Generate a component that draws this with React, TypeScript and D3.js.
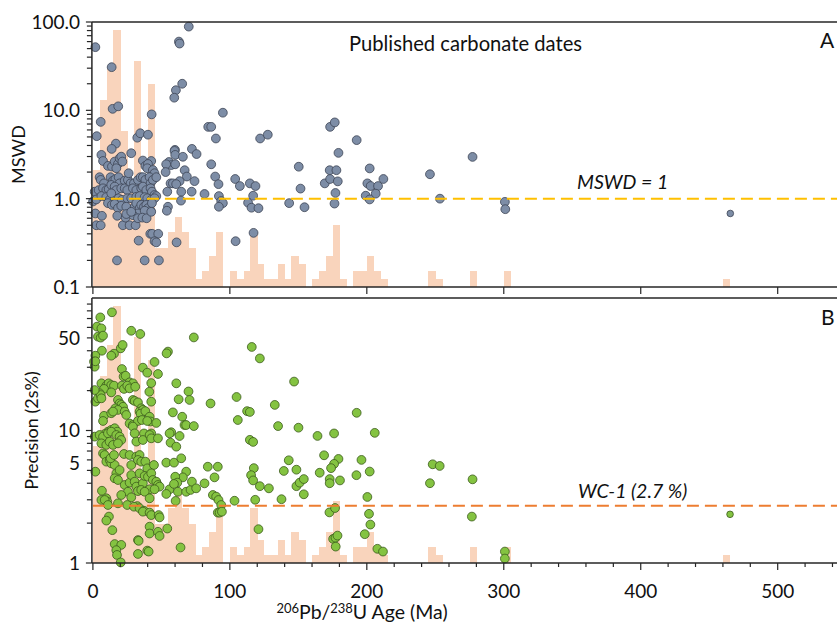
import React from 'react';
import * as d3 from 'd3';

const W = 837;
const H = 623;

const xTicks = [0, 100, 200, 300, 400, 500];
const xMinorTicks = d3.range(20, 541, 20).filter((v) => v % 100 !== 0);
const mswdTicks = [0.1, 1, 10, 100];
const mswdLabels = ['0.1', '1.0', '10.0', '100.0'];
const precTicks = [1, 5, 10, 50];
const precLabels = ['1', '5', '10', '50'];

// histogram of ages: 5 Ma bins (bin start, count)
const histBinStart = [0, 5, 10, 15, 20, 25, 30, 35, 40, 45, 50, 55, 60, 65, 70, 75, 80, 85, 90, 95, 100, 105, 110, 115, 120, 125, 130, 135, 140, 145, 150, 155, 160, 165, 170, 175, 180, 185, 190, 195, 200, 205, 210, 245, 250, 275, 300, 460];
const histCount = [15, 24, 28, 33, 20, 12, 29, 10, 26, 5, 5, 7, 9, 7, 5, 1, 2, 4, 7, 0, 2, 1, 2, 7, 3, 1, 1, 3, 1, 4, 3, 0, 1, 2, 4, 8, 1, 0, 2, 2, 4, 2, 1, 2, 1, 2, 2, 1];

// Panel A: [age Ma, MSWD]
const mswdPoints: [number, number][] = [
  [1.8, 51.9], [70, 88.7], [62.8, 60], [63.3, 57], [13.7, 30.8], [65.2, 20], [60.6, 16.9], [59.4, 13.9],
  [14.4, 10.4], [18.5, 11.1], [5.7, 7.4], [42.9, 9.0], [94.9, 9.4], [84.2, 6.5], [86.4, 6.5], [89.8, 4.8],
  [122.1, 4.8], [127.7, 5.3], [2.8, 5.1], [32.4, 4.9], [34.6, 5.5], [40.2, 5.3], [16.8, 4.2], [13.7, 3.66],
  [59.9, 3.57], [72.3, 3.66], [28, 3.27], [59.6, 3.47], [75.7, 3.2],
  [60.1, 3.13], [65.7, 2.98], [55.5, 2.6], [57.2, 2.4], [60.1, 2.45], [53.5, 2.45], [86.4, 2.45],
  [53.1, 2.0], [67, 2.1], [68.6, 1.78], [74.2, 1.58], [56.7, 1.49], [58.4, 1.49], [63.3, 1.58], [60.8, 1.46],
  [89.3, 1.78], [91.7, 1.46], [103.9, 1.67], [54.3, 1.2], [64.5, 1.2], [72.1, 1.2], [81.5, 1.13],
  [92, 1.07], [93.7, 0.94], [94.9, 0.89], [92, 0.81], [54.8, 0.81], [54, 0.73],
  [41.9, 0.4], [43.3, 0.4], [47.7, 0.4], [45, 0.33], [46.3, 0.32], [61.1, 0.32], [104.2, 0.33], [33.4, 0.335],
  [17.6, 0.2], [37.8, 0.2], [48.2, 0.2], [64.3, 0.95], [117.3, 0.41], [107.3, 1.39], [114.6, 1.49],
  [118.7, 1.39], [117, 1.08], [113.3, 0.9], [115.8, 0.79], [120.9, 0.78],
  [173.2, 6.5], [176.6, 7.3], [192.6, 4.6], [179.3, 3.3], [277.2, 2.97], [150.3, 2.3], [172.9, 2.1], [177.8, 2.1],
  [202.1, 2.2], [246.1, 1.89], [169.3, 1.49], [173.2, 1.67], [178.8, 1.57], [151.6, 1.3], [200.4, 1.49],
  [202.8, 1.39], [208.2, 1.39], [212.1, 1.67], [206.5, 1.14], [177.1, 1.16], [199.2, 1.08], [202.1, 0.98],
  [143.3, 0.89], [154.5, 0.8], [176.4, 0.88], [253.4, 1.0], [300.8, 0.92], [301.1, 0.76],
  [6.2, 3.13], [7.4, 2.67], [11.0, 2.35], [13.9, 2.31], [15.9, 2.63], [18.3, 2.47], [19.5, 2.86], [20.7, 2.99],
  [21.5, 2.63], [17.1, 2.21], [36.5, 2.7], [38.3, 2.35], [42.6, 2.67], [40.2, 2.47], [39.7, 2.21], [43.8, 2.11],
  [45.0, 1.94], [4.9, 1.75], [5.7, 1.63], [8.1, 1.49], [12.9, 1.75], [14.7, 1.6], [16.4, 1.66], [18.8, 1.75],
  [19.5, 1.49], [23.2, 1.6], [25.6, 1.63], [26.1, 1.94], [27.5, 1.49], [30.0, 1.49], [32.9, 1.63], [34.8, 1.75],
  [36.5, 1.75], [38.3, 1.63], [41.4, 1.75], [42.1, 1.49], [43.8, 1.63], [46.3, 1.75],
  [1.3, 1.2], [4.2, 1.25], [7.4, 1.31], [9.8, 1.25], [11.5, 1.28], [13.4, 1.43], [15.9, 1.37], [17.1, 1.25],
  [20.7, 1.31], [23.2, 1.31], [25.1, 1.25], [29.2, 1.31], [31.7, 1.25], [35.3, 1.31], [36.5, 1.37], [39.0, 1.25],
  [42.1, 1.31], [43.1, 1.2], [45.0, 1.1], [46.3, 1.07],
  [0.1, 0.93], [2.5, 0.98], [6.2, 1.07], [9.8, 1.04], [12.2, 0.97], [13.4, 1.15], [15.4, 0.93], [18.8, 1.01],
  [21.2, 0.97], [25.1, 1.01], [28.0, 1.01], [31.7, 1.05], [34.1, 1.07], [37.8, 1.04], [39.7, 1.01], [42.6, 0.97],
  [45.0, 1.01], [1.8, 0.68], [6.6, 0.64], [11.0, 0.89], [13.9, 0.85], [15.9, 0.87], [18.3, 0.78], [20.7, 0.83],
  [24.4, 0.81], [30.5, 0.81], [31.7, 0.89], [34.1, 0.78], [35.3, 0.85], [37.3, 0.81], [39.0, 0.85], [40.2, 0.78],
  [42.1, 0.73], [43.1, 0.89], [32.9, 0.68], [37.8, 0.73],
  [2.5, 0.5], [5.7, 0.5], [17.8, 0.64], [21.9, 0.5], [23.9, 0.61], [26.8, 0.5], [29.2, 0.65], [31.2, 0.5],
  [32.9, 0.6], [36.1, 0.61], [39.2, 0.6], [42.6, 0.71], [24.4, 0.67], [28.0, 0.71],
];
const mswdSmall: [number, number][] = [[465.4, 0.68]];

// Panel B: [age Ma, precision 2s %]
const precPoints: [number, number][] = [
  [5.4, 71.4], [13.9, 78.0], [3.0, 60.8], [6.2, 59.0], [3.7, 51.1], [5.7, 50.2], [7.4, 52.0], [6.6, 40.0],
  [20.3, 41.7], [21.7, 44.2], [15.4, 38.0], [13.4, 36.7], [28.0, 56.6], [34.6, 53.5], [73.7, 50.4], [54.8, 39.4],
  [53.8, 38.2], [1.8, 36.7], [0.8, 33.1], [1.3, 30.3], [1.8, 33.3], [45.0, 32.9], [36.5, 29.8], [39.7, 27.3],
  [47.5, 26.7], [21.2, 29.1], [22.4, 25.5], [23.9, 25.9], [26.8, 23.1], [29.2, 22.7], [42.6, 22.8], [60.9, 22.7],
  [69.8, 19.7], [41.2, 19.6], [6.2, 22.7], [9.8, 21.8], [11.5, 22.7], [13.4, 22.0], [15.4, 21.8], [8.1, 20.6],
  [4.9, 19.1], [13.4, 19.4], [21.2, 21.8], [22.7, 20.6], [25.1, 21.8], [26.8, 20.8], [30.9, 21.4], [1.8, 16.5],
  [3.7, 17.5], [5.7, 18.5], [1.3, 20.2], [6.2, 17.5], [18.3, 17.0], [19.5, 16.0], [20.7, 15.6], [22.0, 15.1],
  [16.4, 14.7], [18.3, 14.3], [23.2, 13.9], [29.2, 17.0], [30.5, 16.7], [32.9, 16.3], [35.3, 14.7], [34.1, 13.9],
  [36.5, 14.3], [34.8, 13.4], [38.3, 14.0], [42.6, 16.5], [62.6, 17.2], [70.6, 17.0], [58.4, 13.7], [65.2, 12.7],
  [66.9, 11.0], [68.1, 11.0], [73.7, 10.8], [85.9, 16.0], [8.1, 12.9], [7.4, 11.8], [13.4, 13.5], [14.7, 13.9],
  [24.4, 13.1], [26.8, 11.3], [29.2, 11.0], [32.9, 11.8], [35.8, 12.0], [41.4, 12.7], [42.1, 11.7], [46.3, 11.4],
  [39.7, 11.8], [57.2, 9.7], [11.0, 9.8], [13.4, 10.1], [15.9, 10.4], [17.8, 9.8], [8.6, 9.4], [37.3, 9.5],
  [42.6, 9.5], [29.2, 10.7], [105.8, 12.0], [104.9, 17.9],
  [116, 42.7], [121.9, 35], [112.6, 14], [114.6, 13.8], [132.8, 15.6], [135.2, 10.8],
  [146.9, 23.4], [150.1, 10.5], [192.6, 13.6], [164, 9.1], [176.1, 9.5], [205.8, 9.6], [168.8, 6.5], [143, 5.96],
  [139.4, 4.95], [148.6, 5.06], [179.3, 6.1], [176.1, 5.6], [173.9, 5.2], [196.1, 6.0], [192.4, 4.6], [202.1, 4.9],
  [165.6, 4.8], [172.9, 4.3], [172.9, 4.0], [180.4, 4.2], [148.6, 3.8], [151, 4.04], [154, 4.3], [154, 3.3],
  [137.7, 3.03], [200.4, 3.15], [248.1, 5.56], [253.2, 5.4], [246.1, 4.0], [277.2, 4.28], [276.7, 2.24],
  [172.7, 2.41], [176.8, 2.6], [201.6, 2.35], [202.6, 1.95], [198.5, 1.65], [175.4, 1.52], [177.1, 1.55],
  [178.6, 1.61], [177.3, 1.33], [207.7, 1.28], [211.8, 1.22], [300.8, 1.22], [300.8, 1.08], [128.5, 3.66],
  [114.6, 8.5], [117, 8.2], [117.5, 5.2], [115.5, 4.6], [117, 4.2], [121.9, 3.8], [118.5, 3.0], [120.9, 1.8],
  [1.3, 8.99], [4.9, 9.25], [7.4, 8.99], [11.0, 9.52], [13.4, 9.8], [17.1, 9.25], [19.5, 8.99], [20.7, 8.48],
  [6.2, 8.0], [9.8, 7.78], [12.2, 8.24], [14.7, 7.78], [18.3, 8.0], [30.5, 9.52], [31.7, 8.24], [36.5, 8.48],
  [41.4, 9.25], [42.6, 8.73], [47.5, 8.73], [56.0, 9.52], [63.3, 9.09], [56.7, 8.09], [60.9, 7.55],
  [1.8, 4.89], [7.4, 6.72], [8.6, 6.53], [9.8, 5.82], [12.2, 5.99], [13.4, 5.65], [15.9, 5.49], [12.9, 6.17],
  [15.4, 6.53], [22.7, 6.65], [26.8, 6.53], [28.0, 5.49], [31.7, 6.35], [34.1, 6.53], [32.9, 5.99], [35.3, 5.82],
  [38.3, 5.82], [39.7, 5.18], [44.6, 5.49], [53.6, 5.72], [59.2, 5.72], [64.5, 6.17], [83.9, 5.33], [91.2, 5.33],
  [88.8, 4.43], [81.5, 3.99], [68.1, 4.89], [65.7, 4.43], [60.1, 4.48], [61.6, 4.04], [56.0, 3.6], [59.2, 3.95],
  [62.1, 3.45], [68.1, 3.45], [71.3, 3.56], [72.3, 4.11], [75.4, 3.66], [53.6, 3.32],
  [17.1, 4.75], [15.9, 4.36], [18.3, 4.23], [19.5, 5.03], [23.2, 3.88], [26.8, 4.04], [28.0, 4.61], [30.5, 4.11],
  [25.6, 3.45], [31.7, 3.77], [34.1, 4.75], [36.5, 3.99], [37.8, 4.54], [40.2, 4.48], [42.6, 4.75], [43.8, 4.23],
  [46.3, 4.11], [47.5, 3.88], [48.7, 3.77], [41.4, 3.6], [45.0, 3.6], [32.9, 3.49], [35.3, 3.56], [37.8, 3.45],
  [28.0, 3.13], [20.7, 3.26], [6.6, 3.51], [6.2, 2.99], [9.8, 3.08], [10.5, 2.9], [8.6, 2.99], [18.3, 2.82],
  [25.1, 2.74], [41.4, 3.08], [32.4, 2.69], [30.0, 2.66], [34.1, 2.59], [37.3, 2.48], [36.5, 2.44], [41.4, 2.4],
  [42.6, 2.3], [48.0, 2.3], [48.7, 2.21], [11.0, 2.74], [11.7, 2.24], [9.8, 2.09], [14.2, 1.77], [15.9, 1.39],
  [20.7, 1.37], [17.1, 1.25], [17.6, 1.15], [20.3, 1.01], [32.9, 1.49], [33.4, 1.47], [32.9, 1.17], [39.7, 1.24],
  [40.7, 1.22], [41.4, 1.88], [41.4, 1.67], [47.5, 1.72], [48.7, 1.6], [54.3, 1.82], [64.0, 1.31], [60.4, 2.94],
  [87.6, 3.26], [90.0, 3.17], [91.7, 2.99], [93.7, 2.74], [91.2, 2.4], [92.5, 2.4], [94.2, 2.44], [103.4, 2.95],
];
const precSmall: [number, number][] = [[465.2, 2.33]];

const mswdRef = 1;
const precRef = 2.7;

const FONT = 'Lato, "Open Sans", sans-serif';

export default function App() {
  const left = 92.9;
  const right = 837;
  const topA = 22, botA = 287;
  const topB = 298, botB = 563;

  const x = d3.scaleLinear().domain([0, 543.3]).range([left, right]);
  const yA = d3.scaleLog().domain([0.1, 100]).range([botA, topA]);
  const yB = d3.scaleLog().domain([1, 100]).range([botB, topB]);
  const hA = d3.scaleLinear().domain([0, 34]).range([botA, topA]);
  const hB = d3.scaleLinear().domain([0, 34]).range([botB, topB]);

  const histColor = '#F9D4BC';
  const axisColor = '#262626';

  const histRects = (h: d3.ScaleLinear<number, number>, base: number) =>
    histBinStart.map((s, i) => {
      const x0 = x(s);
      const x1 = x(s + 5);
      const yy = h(histCount[i]);
      return histCount[i] > 0 ? (
        <rect key={i} x={x0} y={yy} width={x1 - x0 + 0.4} height={base - yy} fill={histColor} shapeRendering="crispEdges" />
      ) : null;
    });

  const minorLog = (lo: number, hi: number) => {
    const out: number[] = [];
    for (let d = lo; d < hi; d *= 10) {
      for (let k = 2; k <= 9; k++) out.push(d * k);
    }
    return out;
  };
  const minorA = minorLog(0.1, 100);
  const minorB = minorLog(1, 100);

  // label "5" sits a little above its tick in the reference
  const precLabelShift = (t: number) => (t === 5 ? -7 : 0);

  return (
    <svg width={W} height={H} viewBox={`0 0 ${W} ${H}`} style={{ display: 'block', position: 'absolute', left: 0, top: 0, background: '#fff' }} fontFamily={FONT}>
      <rect x={0} y={0} width={W} height={H} fill="#fff" />
      {/* Histograms */}
      <g>{histRects(hA, botA)}</g>
      <g>{histRects(hB, botB)}</g>

      {/* Panel A points */}
      <g>
        {mswdPoints.map((d, i) => (
          <circle key={i} cx={x(d[0])} cy={yA(d[1])} r={4.4} fill="#7D8DA6" stroke="#3C4454" strokeWidth={0.8} />
        ))}
        {mswdSmall.map((d, i) => (
          <circle key={'s' + i} cx={x(d[0])} cy={yA(d[1])} r={3.3} fill="#7D8DA6" stroke="#3C4454" strokeWidth={0.8} />
        ))}
      </g>
      {/* Panel B points */}
      <g>
        {precPoints.map((d, i) => (
          <circle key={i} cx={x(d[0])} cy={yB(d[1])} r={4.4} fill="#84C341" stroke="#3B5A1C" strokeWidth={0.8} />
        ))}
        {precSmall.map((d, i) => (
          <circle key={'s' + i} cx={x(d[0])} cy={yB(d[1])} r={3.3} fill="#84C341" stroke="#3B5A1C" strokeWidth={0.8} />
        ))}
      </g>

      {/* Reference lines */}
      <line x1={left} x2={right} y1={yA(mswdRef)} y2={yA(mswdRef)} stroke="#FFC000" strokeWidth={2} strokeDasharray="12 6" />
      <line x1={left} x2={right} y1={yB(precRef)} y2={yB(precRef)} stroke="#ED7D31" strokeWidth={2} strokeDasharray="12 6" />

      {/* Frames */}
      <g stroke={axisColor} strokeWidth={1.5} fill="none">
        <line x1={left - 1} x2={right} y1={topA} y2={topA} />
        <line x1={left - 1} x2={right} y1={botA} y2={botA} />
        <line x1={left - 1} x2={left - 1} y1={topA} y2={botA} />
        <line x1={left - 1} x2={right} y1={topB} y2={topB} />
        <line x1={left - 1} x2={right} y1={botB} y2={botB} />
        <line x1={left - 1} x2={left - 1} y1={topB} y2={botB} />
      </g>
      {/* X ticks */}
      <g stroke={axisColor} strokeWidth={1.2}>
        {xTicks.map((t) => (
          <line key={'a' + t} x1={x(t)} x2={x(t)} y1={botA} y2={botA + 7} />
        ))}
        {xTicks.map((t) => (
          <line key={'b' + t} x1={x(t)} x2={x(t)} y1={botB} y2={botB + 7} />
        ))}
        {xMinorTicks.map((t) => (
          <line key={'m' + t} x1={x(t)} x2={x(t)} y1={botB} y2={botB + 4} />
        ))}
      </g>
      {/* Y ticks */}
      <g stroke={axisColor} strokeWidth={1.2}>
        {mswdTicks.map((t) => (
          <line key={'ya' + t} x1={left - 7} x2={left - 1} y1={yA(t)} y2={yA(t)} />
        ))}
        {minorA.map((t, i) => (
          <line key={'yam' + i} x1={left - 6} x2={left - 1} y1={yA(t)} y2={yA(t)} />
        ))}
        {[1, 10].map((t) => (
          <line key={'yb' + t} x1={left - 7} x2={left - 1} y1={yB(t)} y2={yB(t)} />
        ))}
        {minorB.map((t, i) => (
          <line key={'ybm' + i} x1={left - 6} x2={left - 1} y1={yB(t)} y2={yB(t)} />
        ))}
      </g>

      {/* Tick labels */}
      <g fontSize={19} fill="#111" textAnchor="end">
        {mswdTicks.map((t, i) => (
          <text key={'la' + t} x={80} y={yA(t)} dy="0.36em">{mswdLabels[i]}</text>
        ))}
        {precTicks.map((t, i) => (
          <text key={'lb' + t} x={80} y={yB(t) + precLabelShift(t)} dy="0.36em">{precLabels[i]}</text>
        ))}
      </g>
      <g fontSize={19} fill="#111" textAnchor="middle">
        {xTicks.map((t) => (
          <text key={'lx' + t} x={x(t)} y={598}>{t}</text>
        ))}
      </g>

      {/* Axis titles */}
      <text transform={`translate(25,${(topA + botA) / 2}) rotate(-90)`} textAnchor="middle" fontSize={18} fill="#111">MSWD</text>
      <text transform={`translate(38,${(topB + botB) / 2}) rotate(-90)`} textAnchor="middle" fontSize={18} fill="#111">Precision (2s%)</text>
      <text x={362} y={619} textAnchor="middle" fontSize={19.5} fill="#111">
        <tspan fontSize={13} dy={-6}>206</tspan>
        <tspan dy={6}>Pb/</tspan>
        <tspan fontSize={13} dy={-6}>238</tspan>
        <tspan dy={6}>U Age (Ma)</tspan>
      </text>

      {/* Annotations */}
      <text x={349} y={51} fontSize={20.2} fill="#111">Published carbonate dates</text>
      <text x={820} y={48} fontSize={21} fill="#111">A</text>
      <text x={821} y={325} fontSize={21} fill="#111">B</text>
      <text x={577} y={189} fontSize={19.6} fontStyle="italic" fill="#111">MSWD = 1</text>
      <text x={578} y={498} fontSize={19.5} fontStyle="italic" fill="#111">WC-1 (2.7 %)</text>
    </svg>
  );
}
